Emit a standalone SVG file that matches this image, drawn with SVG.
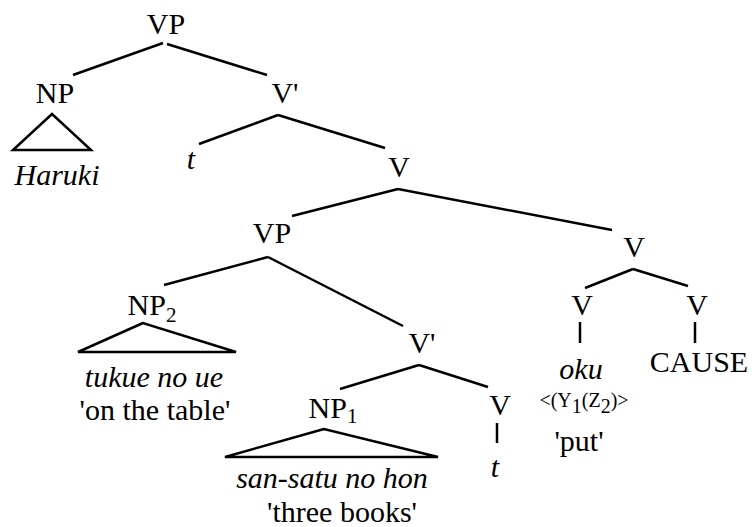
<svg xmlns="http://www.w3.org/2000/svg" width="755" height="527" viewBox="0 0 755 527">
<style>
text{font-family:'Liberation Serif','Times New Roman',Tinos,'Nimbus Roman','DejaVu Serif',serif;font-size:30px;fill:#000;text-anchor:middle}
.i{font-style:italic}
.s{font-size:20px}
.sub{font-size:21px}
.e line,.e polygon{stroke:#000;stroke-width:2.5;fill:none;stroke-linecap:butt}
</style>
<rect width="755" height="527" fill="#fff"/>
<g id="edges" class="e">
<line x1="163" y1="43" x2="73" y2="75"/>
<line x1="167" y1="44" x2="267" y2="75"/>
<polygon points="52,114 13,150 91,150"/>
<line x1="278" y1="115" x2="199" y2="144"/>
<line x1="278" y1="115" x2="385" y2="148"/>
<line x1="398" y1="189" x2="292" y2="216"/>
<line x1="398" y1="189" x2="612" y2="230"/>
<line x1="633" y1="269" x2="585" y2="288"/>
<line x1="633" y1="269" x2="688" y2="286"/>
<line x1="580" y1="322" x2="580" y2="343"/>
<line x1="695" y1="322" x2="695" y2="343"/>
<line x1="268" y1="257" x2="164" y2="285"/>
<line x1="268" y1="257" x2="403" y2="326"/>
<polygon points="143,323 78,352 236,352"/>
<line x1="419" y1="365" x2="340" y2="389"/>
<line x1="419" y1="365" x2="488" y2="387"/>
<polygon points="324,429 225,457 438,457"/>
<line x1="497" y1="423" x2="497" y2="443"/>
</g>
<g font-family="Liberation Serif, serif">
<g id="vp-top"><text x="166" y="34">VP</text></g>
<g id="np-haruki"><text x="55" y="103">NP</text><text class="i" x="57" y="185">Haruki</text></g>
<g id="vbar-top"><text x="285" y="103">V'</text></g>
<g id="t-top"><text class="i" x="191" y="169">t</text></g>
<g id="v-mid"><text x="399" y="177">V</text></g>
<g id="vp-low"><text x="272" y="243">VP</text></g>
<g id="v-right"><text x="634" y="257">V</text></g>
<g id="np2"><text x="152" y="315">NP<tspan class="sub" dy="7">2</tspan></text>
<text class="i" x="154" y="387">tukue no ue</text>
<text x="155" y="420">'on the table'</text></g>
<g id="v-oku"><text x="582" y="315">V</text>
<text class="i" x="581" y="379">oku</text>
<text class="s" x="584" y="407">&lt;(Y<tspan class="s" dy="6">1</tspan><tspan dy="-6">(Z</tspan><tspan dy="6">2</tspan><tspan dy="-6">)&gt;</tspan></text>
<text x="579" y="451">'put'</text></g>
<g id="v-cause"><text x="697" y="315">V</text><text x="699" y="372">CAUSE</text></g>
<g id="vbar-low"><text x="422" y="353">V'</text></g>
<g id="np1"><text x="333" y="418">NP<tspan class="sub" dy="5">1</tspan></text>
<text class="i" x="332" y="488">san-satu no hon</text>
<text x="342" y="522">'three books'</text></g>
<g id="v-t"><text x="500" y="415">V</text><text class="i" x="495" y="477">t</text></g>
</g>
</svg>
